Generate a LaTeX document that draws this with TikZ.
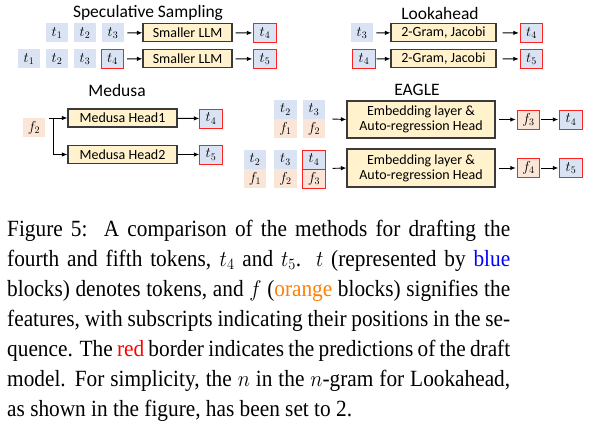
\documentclass[tikz,border=0pt]{standalone}
\usepackage[no-math]{fontspec}
\setmainfont{Liberation Serif}
\newfontfamily\calfont{Carlito}
\usetikzlibrary{arrows.meta,calc}
\definecolor{tblue}{HTML}{DAE3F3}
\definecolor{forange}{HTML}{FBE5D6}
\definecolor{boxyellow}{HTML}{FFF2CC}
\definecolor{boxgray}{HTML}{3A3A3A}
\definecolor{predred}{HTML}{FF2020}
\definecolor{capblue}{HTML}{0000FF}
\definecolor{caporange}{HTML}{FF8000}
\definecolor{capred}{HTML}{FF0000}
\newcommand\capfont{\fontsize{21.3}{26}\selectfont}
\newcommand\capline[1]{\scalebox{1}[1.09]{\makebox[503pt][s]{#1}}}
\tikzset{
  tok/.style={rectangle, minimum width=22.5pt, minimum height=19pt, inner sep=0pt,
    fill=tblue, font=\fontsize{14.4}{15}\selectfont},
  ftok/.style={tok, fill=forange},
  pred/.style={draw=predred, line width=0.9pt},
  blk/.style={rectangle, draw=boxgray, fill=boxyellow, line width=1.2pt, inner sep=0pt,
    font=\calfont\fontsize{14}{14.7}\selectfont, align=center},
  ttl/.style={font=\calfont\fontsize{17.5}{18}\selectfont, inner sep=0pt},
  arr/.style={-{Latex[length=5.5pt,width=4.5pt]}, line width=0.9pt, black},
  capl/.style={anchor=base west, inner sep=0pt, font=\capfont},
}
\begin{document}
\begin{tikzpicture}[x=1pt,y=-1pt]
\fill[white] (0,0) rectangle (612,430);
\useasboundingbox (0,0) rectangle (612,430);

% ---------- Speculative Sampling ----------
\node[ttl] (tspec) at (148,13) {Speculative Sampling};
\node[tok] (s1a) at (57,33) {$t_1$};
\node[tok] (s1b) at (85,33) {$t_2$};
\node[tok] (s1c) at (113,33) {$t_3$};
\node[blk, minimum width=89pt, minimum height=18pt] (s1box) at (187.5,32.5) {Smaller LLM};
\node[tok, pred] (s1o) at (265,33) {$t_4$};
\draw[arr, shorten <=3pt] (s1c) -- (s1box);
\draw[arr, shorten <=3pt, shorten >=1pt] (s1box) -- (s1o);

\node[tok] (s2a) at (29,59) {$t_1$};
\node[tok] (s2b) at (57,59) {$t_2$};
\node[tok] (s2c) at (85,59) {$t_3$};
\node[tok, pred] (s2d) at (112.5,59) {$t_4$};
\node[blk, minimum width=89pt, minimum height=18pt] (s2box) at (187.5,58.5) {Smaller LLM};
\node[tok, pred] (s2o) at (265,59) {$t_5$};
\draw[arr, shorten <=3pt] (s2d) -- (s2box);
\draw[arr, shorten <=3pt, shorten >=1pt] (s2box) -- (s2o);

% ---------- Lookahead ----------
\node[ttl] (tlook) at (440,13) {Lookahead};
\node[tok] (l1a) at (362,33) {$t_3$};
\node[blk, minimum width=105pt, minimum height=18pt] (l1box) at (443.5,32.5) {2-Gram, Jacobi};
\node[tok, pred] (l1o) at (531.5,33) {$t_4$};
\draw[arr, shorten <=3pt] (l1a) -- (l1box);
\draw[arr, shorten <=6pt, shorten >=1pt] (l1box) -- (l1o);

\node[tok, pred] (l2a) at (364,59) {$t_4$};
\node[blk, minimum width=105pt, minimum height=18pt] (l2box) at (443.5,58.5) {2-Gram, Jacobi};
\node[tok, pred] (l2o) at (531.5,59) {$t_5$};
\draw[arr, shorten <=1pt] (l2a) -- (l2box);
\draw[arr, shorten <=6pt, shorten >=1pt] (l2box) -- (l2o);

% ---------- Medusa ----------
\node[ttl] (tmed) at (117,90) {Medusa};
\node[ftok] (mf) at (34,127.5) {$f_2$};
\coordinate (ms) at (49,118);
\coordinate (mj) at (53,118);
\node[blk, minimum width=109pt, minimum height=18pt] (mh1) at (122.5,118) {Medusa Head1};
\node[blk, minimum width=109pt, minimum height=18pt] (mh2) at (122.5,154.5) {Medusa Head2};
\node[tok, pred] (mo1) at (211,118.5) {$t_4$};
\node[tok, pred] (mo2) at (211,154.5) {$t_5$};
\draw[arr] (ms) -- (mh1.west);
\draw[arr] (mj) |- (mh2.west);
\draw[arr] (mh1) -- (mo1);
\draw[arr] (mh2) -- (mo2);

% ---------- EAGLE ----------
\node[ttl] (teag) at (417,90) {EAGLE};
\node[tok] (e1at) at (285.5,109.5) {$t_2$};
\node[ftok] (e1af) at (285.5,128.5) {$f_1$};
\node[tok] (e1bt) at (314,109.5) {$t_3$};
\node[ftok] (e1bf) at (314,128.5) {$f_2$};
\node[blk, minimum width=148pt, minimum height=37pt] (e1box) at (421,119.5) {Embedding layer \&\\Auto-regression Head};
\node[ftok, pred] (e1f) at (528.5,119.5) {$f_3$};
\node[tok, pred] (e1o) at (571,119.5) {$t_4$};
\draw[arr, shorten <=7pt] (e1bf.north east) -- (e1box.west);
\draw[arr, shorten <=3pt, shorten >=1pt] (e1box) -- (e1f);
\draw[arr, shorten <=1pt, shorten >=1pt] (e1f) -- (e1o);

\node[tok] (e2at) at (255,159.5) {$t_2$};
\node[ftok] (e2af) at (255,178.5) {$f_1$};
\node[tok] (e2bt) at (285.5,159.5) {$t_3$};
\node[ftok] (e2bf) at (285.5,178.5) {$f_2$};
\node[tok, pred] (e2ct) at (314,159.5) {$t_4$};
\node[ftok, pred] (e2cf) at (314,178.5) {$f_3$};
\node[blk, minimum width=148pt, minimum height=38pt] (e2box) at (421,168) {Embedding layer \&\\Auto-regression Head};
\node[ftok, pred] (e2f) at (528.5,168) {$f_4$};
\node[tok, pred] (e2o) at (571,168) {$t_5$};
\draw[arr, shorten <=7pt] (e2cf.north east) -- (e2box.west);
\draw[arr, shorten <=3pt, shorten >=1pt] (e2box) -- (e2f);
\draw[arr, shorten <=1pt, shorten >=1pt] (e2f) -- (e2o);

% ---------- Caption ----------
\node[capl] (cap1) at (7,236.7) {\capline{Figure~5:\ \ A comparison of the methods for drafting the}};
\node[capl] (cap2) at (7,266.6) {\capline{fourth and fifth tokens, $t_4$ and $t_5$. $t$ (represented by \textcolor{capblue}{blue}}};
\node[capl] (cap3) at (7,296.5) {\capline{blocks) denotes tokens, and $f$ (\textcolor{caporange}{orange} blocks) signifies the}};
\node[capl] (cap4) at (7,326.4) {\capline{features, with subscripts indicating their positions in the se-}};
\node[capl] (cap5) at (7,356.3) {\capline{quence. The \textcolor{capred}{red} border indicates the predictions of the draft}};
\node[capl] (cap6) at (7,386.2) {\capline{model. For simplicity, the $n$ in the $n$-gram for Lookahead,}};
\node[capl] (cap7) at (7,416.1) {\scalebox{1}[1.09]{as shown in the figure, has been set to 2.}};
\end{tikzpicture}
\end{document}
